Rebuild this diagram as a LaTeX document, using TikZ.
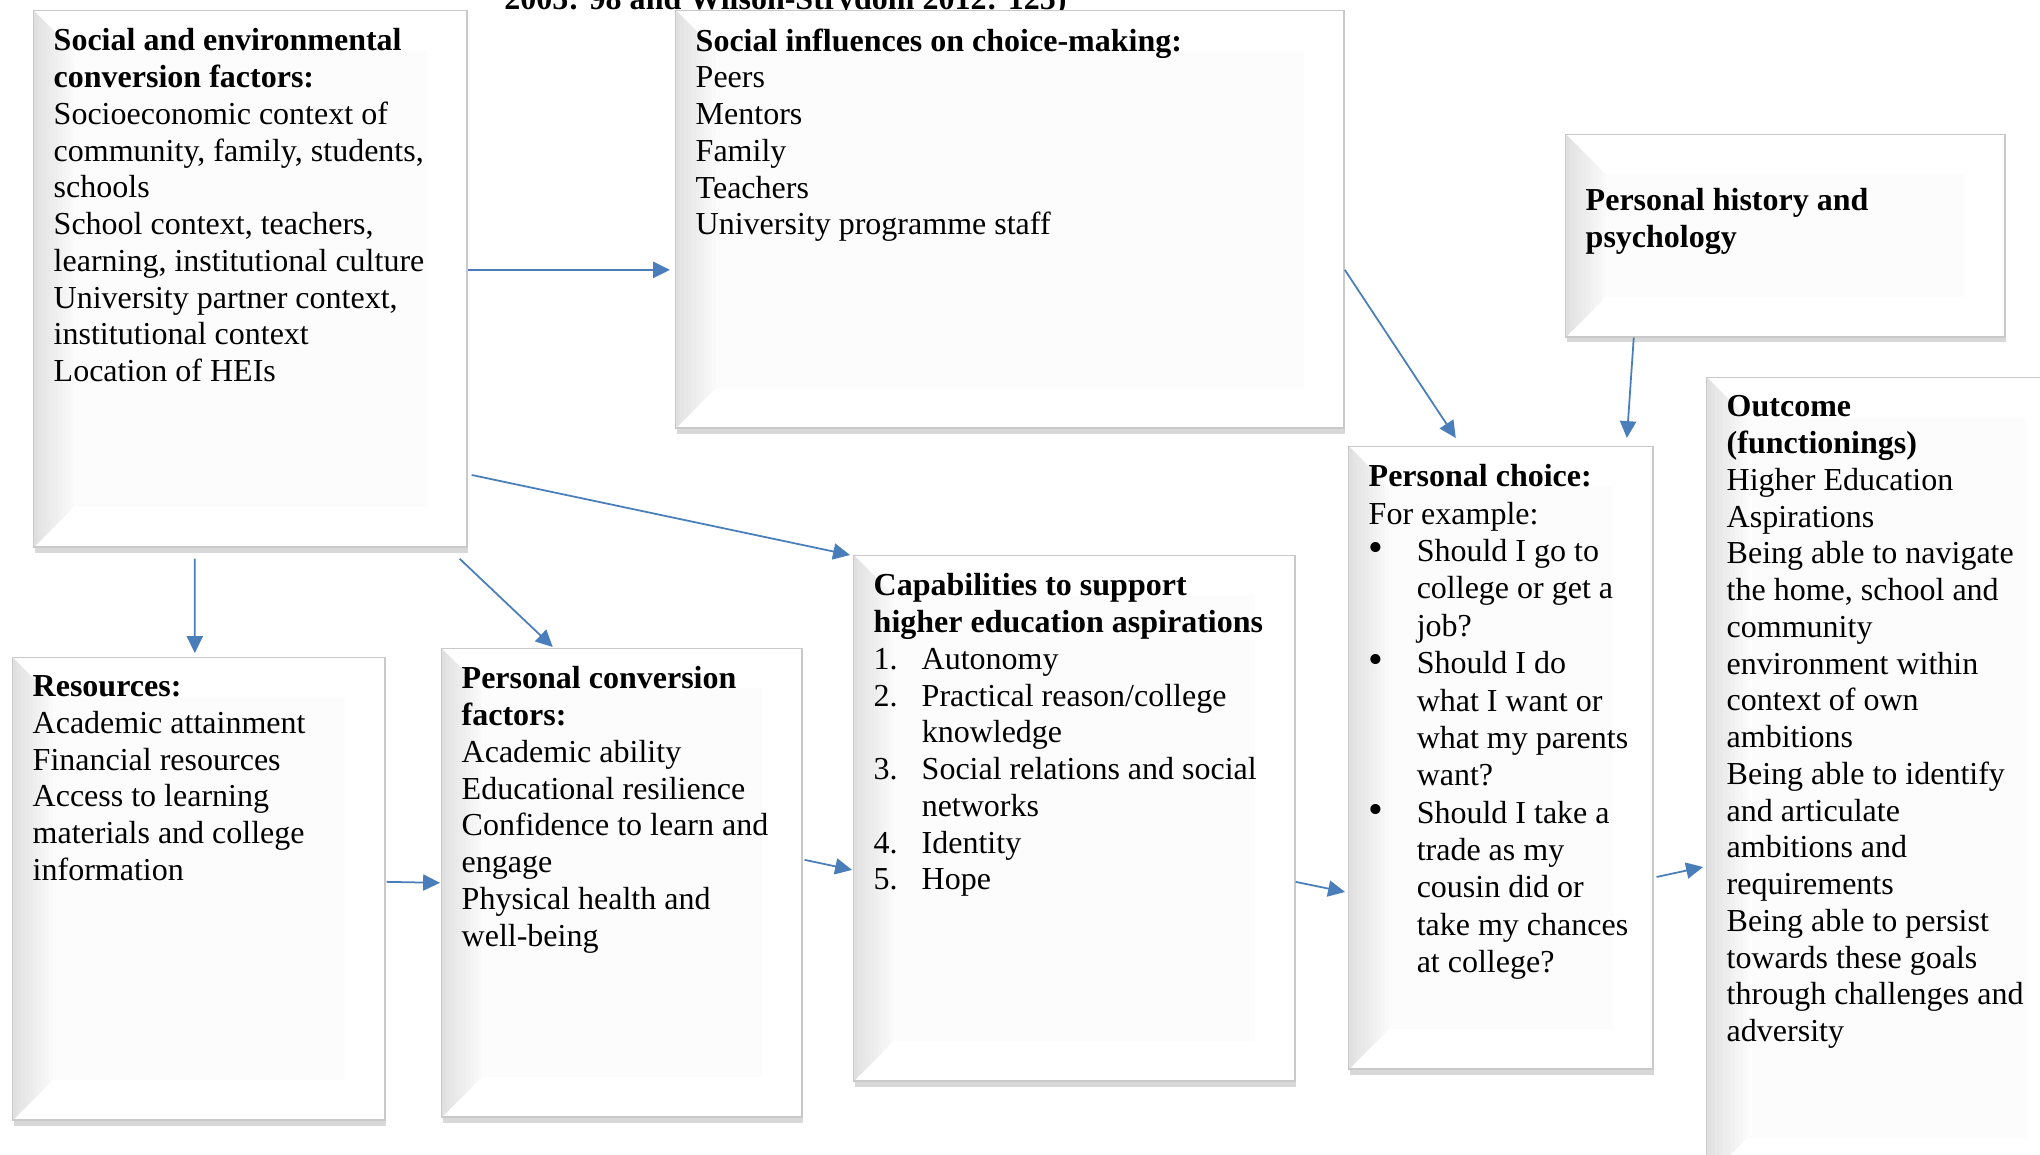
\documentclass[tikz,border=0pt]{standalone}
\usepackage{fontspec}
\setmainfont{Liberation Serif}
\usetikzlibrary{arrows.meta, shadows}

\definecolor{linkblue}{RGB}{74,126,187}

\newcommand{\paneltext}[3]{%
  \parbox[t][\dimexpr#2cm-0.36cm\relax][t]{\dimexpr#1cm-0.4cm\relax}{\raggedright #3}}
\newcommand{\itm}[1]{\makebox[0.48cm][l]{#1}}
\newcommand{\blt}{\makebox[0.48cm][l]{\fontsize{12}{10}\selectfont\textbullet}}

\tikzset{
  panel/.style={anchor=north west, fill=gray!2.5, draw=gray!42, line width=0.4pt,
    inner xsep=0.2cm, inner ysep=0.18cm, font=\fontsize{9.1}{10.45}\selectfont,
    drop shadow={shadow xshift=0.3pt, shadow yshift=-1.6pt, opacity=0.3},
    path picture={
      \coordinate (pp sw) at (path picture bounding box.south west);
      \coordinate (pp se) at (path picture bounding box.south east);
      \coordinate (pp nw) at (path picture bounding box.north west);
      \coordinate (pp ne) at (path picture bounding box.north east);
      \fill[white] (pp sw) -- (pp se) -- ++(-0.4cm,0.4cm) -- ([shift={(0.4cm,0.4cm)}]pp sw) -- cycle;
      \fill[white] (pp nw) -- (pp ne) -- ++(-0.4cm,-0.4cm) -- ([shift={(0.4cm,-0.4cm)}]pp nw) -- cycle;
      \fill[white] (pp ne) -- (pp se) -- ++(-0.4cm,0.4cm) -- ([shift={(-0.4cm,-0.4cm)}]pp ne) -- cycle;
      \foreach \w/\c in {0.40cm/5, 0.36cm/7, 0.32cm/9, 0.28cm/11, 0.24cm/13,
                         0.20cm/15, 0.16cm/17, 0.12cm/19, 0.08cm/21, 0.04cm/24}
        \fill[gray!\c] (pp sw) -- ++(\w,\w) -- ([shift={(\w,-\w)}]pp nw) -- (pp nw) -- cycle;
    }},
  link/.style={-{Triangle[length=4.8pt, width=4.6pt]}, draw=linkblue, line width=0.5pt}
}

\begin{document}
\begin{tikzpicture}[x=0.01cm, y=-0.01cm]
    \useasboundingbox (0,0) rectangle (2040,1154);
    \fill[white] (0,0) rectangle (2040,1154);
    \clip (0,0) rectangle (2040,1154);

    \node[font=\fontsize{9.1}{10.45}\selectfont\bfseries, anchor=base west] (citation) at (492,9)
        {2005: 98 and Wilson-Strydom 2012: 125)};

    \node[panel] (social env) at (33,10) {\paneltext{4.33}{5.36}{%
        \textbf{Social and environmental\\conversion factors:}\\
        Socioeconomic context of\\
        community, family, students,\\
        schools\\
        School context, teachers,\\
        learning, institutional culture\\
        University partner context,\\
        institutional context\\
        Location of HEIs}};
    \node[panel] (social infl) at (675,10) {\paneltext{6.68}{4.17}{%
        \textbf{Social influences on choice-making:}\\
        Peers\\
        Mentors\\
        Family\\
        Teachers\\
        University programme staff}};
    \node[panel] (history) at (1565,134) {\paneltext{4.39}{2.02}{%
        \vspace*{0.36cm}
        \textbf{Personal history and\\psychology}}};
    \node[panel] (resources) at (12,657) {\paneltext{3.72}{4.62}{%
        \textbf{Resources:}\\
        Academic attainment\\
        Financial resources\\
        Access to learning\\
        materials and college\\
        information}};
    \node[panel] (personal conv) at (441,648) {\paneltext{3.60}{4.68}{%
        \textbf{Personal conversion\\factors:}\\
        Academic ability\\
        Educational resilience\\
        Confidence to learn and\\
        engage\\
        Physical health and\\
        well-being}};
    \node[panel] (capabilities) at (853,555) {\paneltext{4.41}{5.25}{%
        \textbf{Capabilities to support\\higher education aspirations}\\
        \itm{1.}Autonomy\\
        \itm{2.}Practical reason/college\\
        \itm{}knowledge\\
        \itm{3.}Social relations and social\\
        \itm{}networks\\
        \itm{4.}Identity\\
        \itm{5.}Hope}};
    \node[panel, font=\fontsize{9.1}{10.62}\selectfont] (choice) at (1348,446) {\paneltext{3.04}{6.22}{%
        \textbf{Personal choice:}\\
        For example:\\
        \blt Should I go to\\
        \itm{}college or get a\\
        \itm{}job?\\
        \blt Should I do\\
        \itm{}what I want or\\
        \itm{}what my parents\\
        \itm{}want?\\
        \blt Should I take a\\
        \itm{}trade as my\\
        \itm{}cousin did or\\
        \itm{}take my chances\\
        \itm{}at college?}};
    \node[panel] (outcome) at (1706,377) {\paneltext{3.60}{8.00}{%
        \textbf{Outcome\\(functionings)}\\
        Higher Education\\
        Aspirations\\
        Being able to navigate\\
        the home, school and\\
        community\\
        environment within\\
        context of own\\
        ambitions\\
        Being able to identify\\
        and articulate\\
        ambitions and\\
        requirements\\
        Being able to persist\\
        towards these goals\\
        through challenges and\\
        adversity}};

    \draw[link] ([yshift=0.09cm]social env.east)              -- ([shift={(-0.05cm,-0.505cm)}]social infl.west);
    \draw[link] ([shift={(0.04cm,-1.96cm)}]social env.east)   -- ([xshift=-0.03cm]capabilities.north west);
    \draw[link] ([shift={(-0.555cm,-0.11cm)}]social env.south) -- ([shift={(-0.04cm,0.04cm)}]resources.north);
    \draw[link] ([shift={(-0.08cm,-0.11cm)}]social env.south east) -- ([shift={(-0.69cm,0.01cm)}]personal conv.north);
    \draw[link] ([yshift=-0.505cm]social infl.east)           -- ([shift={(-0.45cm,0.08cm)}]choice.north);
    \draw[link] ([xshift=-1.515cm]history.south)              -- ([shift={(1.26cm,0.08cm)}]choice.north);
    \draw[link] ([shift={(0.01cm,0.07cm)}]resources.east)     -- ([xshift=-0.01cm]personal conv.west);
    \draw[link] ([shift={(0.02cm,0.23cm)}]personal conv.east) -- ([shift={(-0.01cm,-0.515cm)}]capabilities.west);
    \draw[link] ([yshift=-0.635cm]capabilities.east)          -- ([shift={(-0.03cm,-1.34cm)}]choice.west);
    \draw[link] ([shift={(0.03cm,-1.19cm)}]choice.east)       -- ([shift={(-0.03cm,-0.89cm)}]outcome.west);
\end{tikzpicture}
\end{document}
